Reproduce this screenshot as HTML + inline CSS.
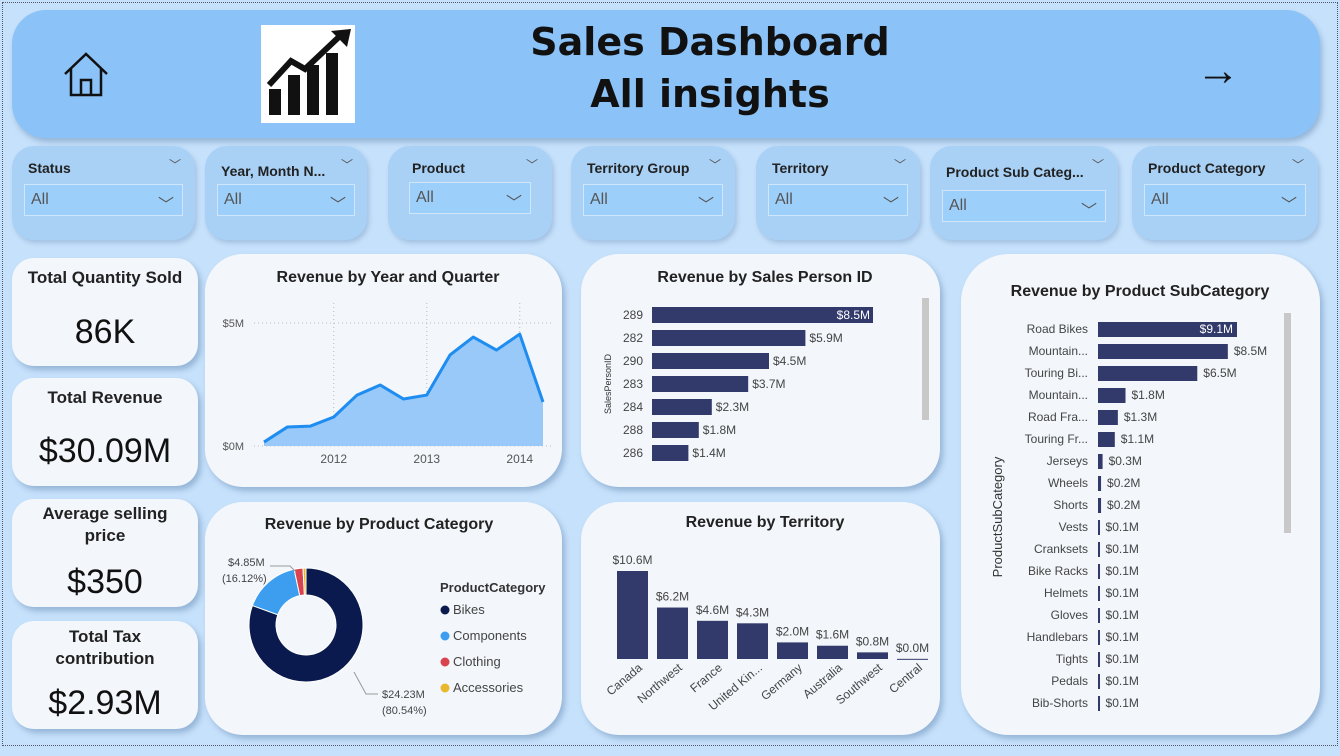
<!DOCTYPE html>
<html><head><meta charset="utf-8"><style>
*{box-sizing:border-box;margin:0;padding:0}
body{width:1340px;height:756px;background:#c6e1fb;font-family:"Liberation Sans",sans-serif;position:relative;overflow:hidden}
.abs{position:absolute}
.card{position:absolute;background:#f3f7fb;border-radius:38px;box-shadow:3px 4px 6px rgba(60,100,150,.35)}
.slicer{position:absolute;background:#a9d1f6;border-radius:22px;box-shadow:2px 3px 5px rgba(60,100,150,.25)}
.slicer .t{position:absolute;left:16px;top:14px;font-weight:bold;font-size:14px;color:#222}
.slicer .c{position:absolute;right:14px;top:10px;font-size:12px;color:#555}
.slicer .b{position:absolute;left:12px;right:12px;top:38px;height:32px;background:#9dcffb;border:1px solid #cfe6fb;font-size:16px;color:#555;padding:6px 0 0 6px}
.kpi{position:absolute;left:12px;width:186px;background:#f3f7fb;border-radius:22px;box-shadow:3px 4px 6px rgba(60,100,150,.35);text-align:center}
.kt{font-weight:bold;font-size:17px;color:#222;line-height:22px}
.kv{font-size:34px;color:#111}
.title{font-weight:bold;font-size:16px;fill:#222}
</style></head><body>
<div class="abs" style="left:2px;top:2px;width:1336px;height:744px;border:1px dotted #556"></div>
<div class="abs" style="left:12px;top:10px;width:1308px;height:128px;background:#8bc2f7;border-radius:34px;box-shadow:2px 4px 6px rgba(60,100,150,.35)"></div>
<svg class="abs" style="left:62px;top:50px" width="50" height="48"><path d="M3 24 L24 4 L45 24 M9 19 V45 H39 V19 M19 45 V30 H29 V45" fill="none" stroke="#111" stroke-width="2.5"/></svg>
<div class="abs" style="left:261px;top:25px;width:94px;height:98px;background:#fff">
<svg width="94" height="98"><rect x="8" y="64" width="12" height="26" fill="#111"/><rect x="27" y="50" width="12" height="40" fill="#111"/><rect x="46" y="40" width="12" height="50" fill="#111"/><rect x="65" y="28" width="12" height="62" fill="#111"/><path d="M8 60 L30 36 L44 44 L80 10" stroke="#111" stroke-width="6" fill="none"/><path d="M70 6 L90 4 L86 22 Z" fill="#111"/></svg></div>
<div class="abs" style="left:500px;top:16px;width:420px;text-align:center;font-family:'DejaVu Sans',sans-serif;font-weight:bold;font-size:38px;line-height:52px;color:#111">Sales Dashboard<br>All insights</div>
<div class="abs" style="left:1196px;top:46px;font-size:44px;color:#111;line-height:50px">→</div>

<div class="slicer" style="left:12px;top:146px;width:183px;height:94px"><div class="t">Status</div><div class="c">﹀</div><div class="b">All<span style="position:absolute;right:8px">﹀</span></div></div>
<div class="slicer" style="left:205px;top:146px;width:162px;height:94px"><div class="t" style="top:17px">Year, Month N...</div><div class="c">﹀</div><div class="b">All<span style="position:absolute;right:8px">﹀</span></div></div>
<div class="slicer" style="left:388px;top:146px;width:164px;height:94px"><div class="t" style="left:24px">Product</div><div class="c">﹀</div><div class="b" style="top:36px;left:21px;right:21px">All<span style="position:absolute;right:8px">﹀</span></div></div>
<div class="slicer" style="left:571px;top:146px;width:164px;height:94px"><div class="t">Territory Group</div><div class="c">﹀</div><div class="b">All<span style="position:absolute;right:8px">﹀</span></div></div>
<div class="slicer" style="left:756px;top:146px;width:164px;height:94px"><div class="t">Territory</div><div class="c">﹀</div><div class="b">All<span style="position:absolute;right:8px">﹀</span></div></div>
<div class="slicer" style="left:930px;top:146px;width:188px;height:94px"><div class="t" style="top:18px">Product Sub Categ...</div><div class="c">﹀</div><div class="b" style="top:44px">All<span style="position:absolute;right:8px">﹀</span></div></div>
<div class="slicer" style="left:1132px;top:146px;width:186px;height:94px"><div class="t">Product Category</div><div class="c">﹀</div><div class="b">All<span style="position:absolute;right:8px">﹀</span></div></div>

<div class="kpi" style="top:258px;height:108px"><div class="kt" style="margin-top:9px">Total Quantity Sold</div><div class="kv" style="margin-top:24px">86K</div></div>
<div class="kpi" style="top:378px;height:108px"><div class="kt" style="margin-top:9px">Total Revenue</div><div class="kv" style="margin-top:23px">$30.09M</div></div>
<div class="kpi" style="top:499px;height:108px"><div class="kt" style="margin-top:4px">Average selling<br>price</div><div class="kv" style="margin-top:16px">$350</div></div>
<div class="kpi" style="top:621px;height:108px"><div class="kt" style="margin-top:5px">Total Tax<br>contribution</div><div class="kv" style="margin-top:14px">$2.93M</div></div>

<div class="card" style="left:205px;top:254px;width:357px;height:233px"></div>
<div class="card" style="left:581px;top:254px;width:359px;height:233px"></div>
<div class="card" style="left:205px;top:502px;width:357px;height:233px"></div>
<div class="card" style="left:581px;top:502px;width:359px;height:233px"></div>
<div class="card" style="left:961px;top:254px;width:359px;height:481px;border-radius:48px"></div>

<svg id="ch" class="abs" style="left:0;top:0" width="1340" height="756"></svg>
<script>
const quarters=["2011Q2","2011Q3","2011Q4","2012Q1","2012Q2","2012Q3","2012Q4","2013Q1","2013Q2","2013Q3","2013Q4","2014Q1","2014Q2"];
const quarterRevenue=[0.16,0.77,0.81,1.18,2.07,2.48,1.91,2.07,3.7,4.43,3.9,4.55,1.79];
const lineTicks=[0,5];
const yearTicks=["2012","2013","2014"];
const salesPersons=["289","282","290","283","284","288","286"];
const salesRevenue=[8.5,5.9,4.5,3.7,2.3,1.8,1.4];
const categories=["Bikes","Components","Clothing","Accessories"];
const categoryShare=[80.54,16.12,2.5,0.84];
const categoryColors=["#0b1a4e","#3d9ef0","#d9434e","#e8b92e"];
const territories=["Canada","Northwest","France","United Kin...","Germany","Australia","Southwest","Central"];
const territoryRevenue=[10.6,6.2,4.6,4.3,2.0,1.6,0.8,0.02];
const subcats=["Road Bikes","Mountain...","Touring Bi...","Mountain...","Road Fra...","Touring Fr...","Jerseys","Wheels","Shorts","Vests","Cranksets","Bike Racks","Helmets","Gloves","Handlebars","Tights","Pedals","Bib-Shorts"];
const subRevenue=[9.1,8.5,6.5,1.8,1.3,1.1,0.3,0.2,0.2,0.1,0.1,0.1,0.1,0.1,0.1,0.1,0.1,0.1];

const svg=document.getElementById('ch');const NS='http://www.w3.org/2000/svg';
function el(t,a,txt){const e=document.createElementNS(NS,t);for(const k in a)e.setAttribute(k,a[k]);if(txt!==undefined)e.textContent=txt;svg.appendChild(e);return e;}
const NAVY="#323a6b";
let t;
t=el('text',{x:388,y:282,'text-anchor':'middle',class:'title'},'Revenue by Year and Quarter');
t=el('text',{x:765,y:282,'text-anchor':'middle',class:'title'},'Revenue by Sales Person ID');
t=el('text',{x:379,y:529,'text-anchor':'middle',class:'title'},'Revenue by Product Category');
t=el('text',{x:765,y:527,'text-anchor':'middle',class:'title'},'Revenue by Territory');
t=el('text',{x:1140,y:296,'text-anchor':'middle',class:'title'},'Revenue by Product SubCategory');

// line chart
const lx=i=>264+i*(543-264)/(quarters.length-1), ly=v=>446-v*123/5;
lineTicks.forEach(v=>{const g=el('line',{x1:254,x2:552,y1:ly(v),y2:ly(v),stroke:'#bbb','stroke-dasharray':'1 3'});
const tx=el('text',{x:244,y:ly(v)+4,'text-anchor':'end','font-size':11,fill:'#555'},'$'+v+'M');});
yearTicks.forEach((y,k)=>{const x=lx(3+4*k);const g=el('line',{x1:x,x2:x,y1:303,y2:446,stroke:'#bbb','stroke-dasharray':'1 3'});
const tx=el('text',{x:x,y:463,'text-anchor':'middle','font-size':12,fill:'#555'},y);});
let pts=quarterRevenue.map((v,i)=>lx(i)+','+ly(v)).join(' ');
let ar=el('polygon',{points:lx(0)+','+ly(0)+' '+pts+' '+lx(quarters.length-1)+','+ly(0),fill:'#98c9f8'});
let pl=el('polyline',{points:pts,fill:'none',stroke:'#1e8cf0','stroke-width':3,'stroke-linejoin':'round'});

// salesperson bars
const sx=v=>652+v*221/8.5, sy=i=>315+i*23;
t=el('text',{x:611,y:384,'text-anchor':'middle','font-size':9,fill:'#333',transform:'rotate(-90 611 384)'},'SalesPersonID');
salesPersons.forEach((p,i)=>{const y=sy(i);
const l=el('text',{x:643,y:y+4,'text-anchor':'end','font-size':12,fill:'#444'},p);
const b=el('rect',{x:652,y:y-8,width:sx(salesRevenue[i])-652,height:16,fill:NAVY});
const inside=i===0;const v=el('text',{x:inside?sx(salesRevenue[i])-3:sx(salesRevenue[i])+4,y:y+4,'text-anchor':inside?'end':'start','font-size':12,fill:inside?'#fff':'#444'},'$'+salesRevenue[i].toFixed(1)+'M');});
t=el('rect',{x:922,y:298,width:7,height:122,fill:'#c8c8c8'});

// donut
const cx=306,cy=625,R=57,r=30;let acc=0;const tot=categoryShare.reduce((a,b)=>a+b,0);
categoryShare.forEach((s,i)=>{const a0=acc/tot*2*Math.PI,a1=(acc+s)/tot*2*Math.PI;acc+=s;
const p=(a,rad)=>[cx+rad*Math.sin(a),cy-rad*Math.cos(a)];const lg=(a1-a0)>Math.PI?1:0;
const [x0,y0]=p(a0,R),[x1,y1]=p(a1,R),[x2,y2]=p(a1,r),[x3,y3]=p(a0,r);
const d=`M${x0},${y0} A${R},${R} 0 ${lg} 1 ${x1},${y1} L${x2},${y2} A${r},${r} 0 ${lg} 0 ${x3},${y3} Z`;
const e=el('path',{d:d,fill:categoryColors[i],stroke:'#fff','stroke-width':1});
const ly2=610+i*26;const dt=el('circle',{cx:445,cy:ly2,r:4.5,fill:categoryColors[i]});
const lt=el('text',{x:453,y:ly2+4,'font-size':13,fill:'#444'},categories[i]);});
t=el('text',{x:440,y:592,'font-size':13,'font-weight':'bold',fill:'#333'},'ProductCategory');
t=el('text',{x:228,y:566,'font-size':11,fill:'#444'},'$4.85M');
t=el('text',{x:222,y:582,'font-size':11,fill:'#444'},'(16.12%)');
el('polyline',{points:'270,566 290,566 296,572',fill:'none',stroke:'#999'});
t=el('text',{x:382,y:698,'font-size':11,fill:'#444'},'$24.23M');
t=el('text',{x:382,y:714,'font-size':11,fill:'#444'},'(80.54%)');
el('polyline',{points:'354,672 366,694 378,694',fill:'none',stroke:'#999'});

// territory bars
const tx0=i=>617+i*40, ty=v=>659-v*88/10.6;
territories.forEach((n,i)=>{const y=ty(territoryRevenue[i]);
const b=el('rect',{x:tx0(i),y:y,width:31,height:Math.max(659-y,1),fill:NAVY});
const v=el('text',{x:tx0(i)+15.5,y:y-7,'text-anchor':'middle','font-size':12,fill:'#444'},'$'+territoryRevenue[i].toFixed(1)+'M');
const lx2=tx0(i)+26;const l=el('text',{x:lx2,y:669,'text-anchor':'end','font-size':12,fill:'#444',transform:`rotate(-40 ${lx2} 669)`},n);});

// subcategory bars
const bx=v=>1098+v*139/9.1, by=i=>329+i*22;
t=el('text',{x:1002,y:517,'text-anchor':'middle','font-size':13,fill:'#333',transform:'rotate(-90 1002 517)'},'ProductSubCategory');
subcats.forEach((n,i)=>{const y=by(i);
const l=el('text',{x:1088,y:y+4,'text-anchor':'end','font-size':12,fill:'#444'},n);
const b=el('rect',{x:1098,y:y-7,width:Math.max(bx(subRevenue[i])-1098,2),height:15,fill:NAVY});
const inside=i===0;const v=el('text',{x:inside?bx(subRevenue[i])-4:bx(subRevenue[i])+6,y:y+4,'text-anchor':inside?'end':'start','font-size':12,fill:inside?'#fff':'#444'},'$'+subRevenue[i].toFixed(1)+'M');});
t=el('rect',{x:1284,y:313,width:7,height:220,fill:'#c8c8c8'});
</script>
</body></html>
